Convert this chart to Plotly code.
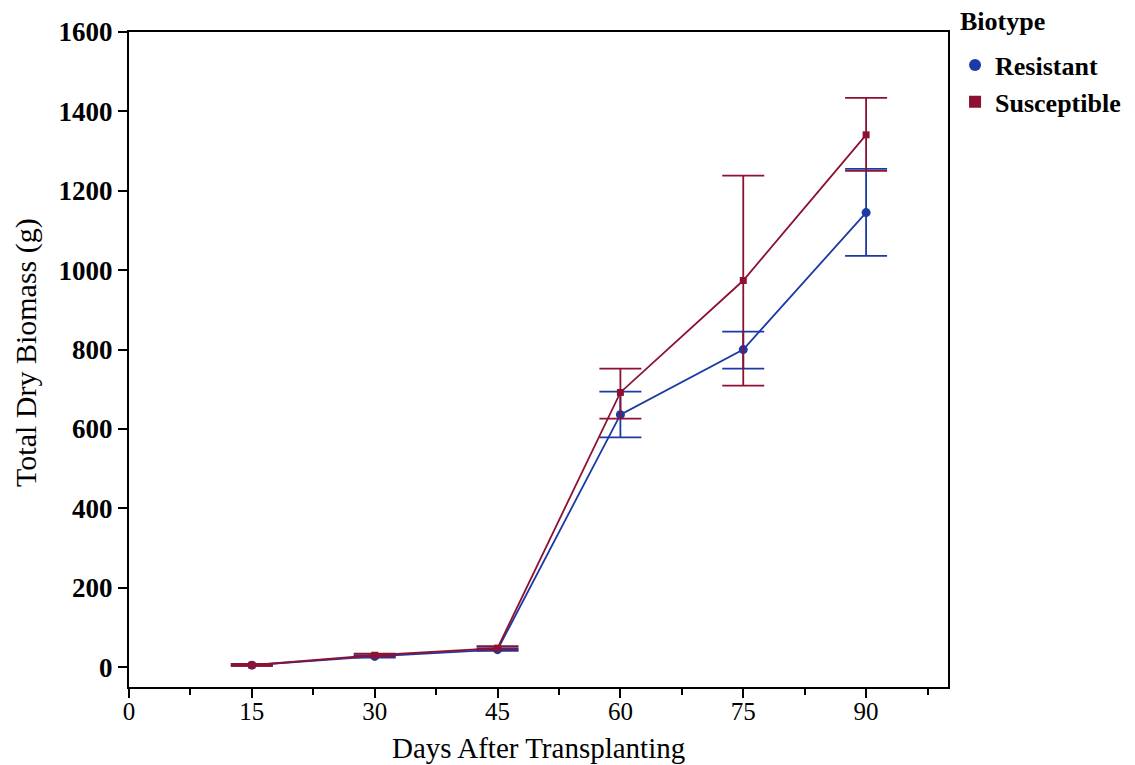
import plotly.graph_objects as go

days = [15, 30, 45, 60, 75, 90]
res_mean = [5, 27, 44, 636, 800, 1145]
res_upper = [8, 30, 48, 694, 845, 1255]
res_lower = [3, 24, 41, 579, 752, 1036]
sus_mean = [5, 30, 48, 692, 974, 1341]
sus_upper = [8, 34, 53, 752, 1238, 1434]
sus_lower = [3, 27, 44, 626, 709, 1250]

x_ticks = [0, 15, 30, 45, 60, 75, 90]
y_ticks = [0, 200, 400, 600, 800, 1000, 1200, 1400, 1600]

BLUE = "#1b3aa5"
RED = "#8e1132"
FONT = "Liberation Serif"

fig = go.Figure()


def add_series(name, mean, up, lo, color, symbol, size, lsize):
    fig.add_trace(go.Scatter(
        x=days, y=mean, name=name, mode="lines+markers", showlegend=False,
        line=dict(color=color, width=1.8),
        marker=dict(color=color, symbol=symbol, size=size),
        error_y=dict(type="data", symmetric=False,
                     array=[u - m for u, m in zip(up, mean)],
                     arrayminus=[m - l for m, l in zip(mean, lo)],
                     color=color, thickness=1.8, width=21),
    ))
    fig.add_trace(go.Scatter(
        x=[None], y=[None], name="<b>%s</b>" % name, mode="markers",
        marker=dict(color=color, symbol=symbol, size=lsize),
    ))


add_series("Resistant", res_mean, res_upper, res_lower, BLUE, "circle", 9, 11)
add_series("Susceptible", sus_mean, sus_upper, sus_lower, RED, "square", 7, 8)

fig.update_layout(
    width=1135, height=765,
    paper_bgcolor="white", plot_bgcolor="white",
    margin=dict(l=121, r=195, t=24, b=86, autoexpand=False),
    font=dict(family=FONT, color="black"),
    legend=dict(
        font=dict(size=26, family=FONT),
        xref="container", yref="container",
        x=0.8344, xanchor="left", y=0.956, yanchor="top",
        bgcolor="rgba(0,0,0,0)", tracegroupgap=0, itemsizing="constant",
        itemwidth=30,
    ),
    annotations=[
        dict(text="<b>Biotype</b>", xref="paper", yref="paper", x=1.0122, y=1.0153,
             xanchor="left", yanchor="middle", showarrow=False,
             font=dict(size=26, family=FONT)),
        dict(text="Days After Transplanting", xref="paper", yref="paper", x=0.5, y=-0.0931,
             xanchor="center", yanchor="middle", showarrow=False,
             font=dict(size=29, family=FONT)),
        dict(text="Total Dry Biomass (g)", xref="paper", yref="paper", x=-0.1258, y=0.5115,
             xanchor="center", yanchor="middle", showarrow=False, textangle=-90,
             font=dict(size=30, family=FONT)),
    ],
    xaxis=dict(
        range=[0, 100], tickvals=x_ticks, ticktext=[str(v) for v in x_ticks],
        ticks="outside", ticklen=9, tickwidth=1.5, tickcolor="black",
        minor=dict(dtick=7.5, tick0=0, ticks="outside", ticklen=6, tickwidth=1.5, tickcolor="black"),
        showline=True, linecolor="black", linewidth=2, mirror=True,
        showgrid=False, zeroline=False, automargin=False,
        tickfont=dict(size=25, family=FONT), ticklabelstandoff=-8,
    ),
    yaxis=dict(
        range=[-50, 1600], tickvals=y_ticks,
        ticktext=["<b>%d</b>" % v for v in y_ticks],
        ticks="outside", ticklen=9, tickwidth=1.5, tickcolor="black",
        showline=True, linecolor="black", linewidth=2, mirror=True,
        showgrid=False, zeroline=False, automargin=False,
        tickfont=dict(size=27, family=FONT),
    ),
)

fig.write_html("out.html")
